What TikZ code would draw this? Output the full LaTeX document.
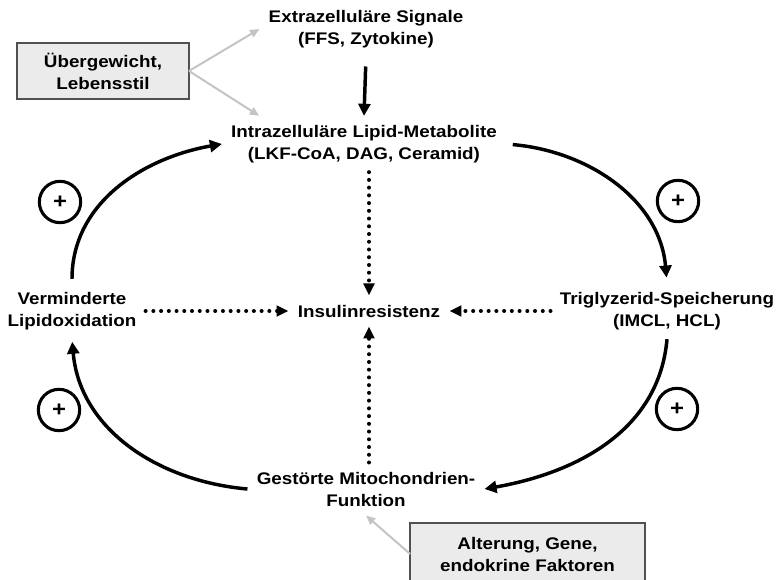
\documentclass[tikz,border=0pt]{standalone}
\usepackage{fontspec}
\setmainfont[FakeStretch=1.12]{Liberation Sans}
\usepackage{tikz}
\usetikzlibrary{arrows.meta}
\definecolor{boxfill}{HTML}{EBEBEB}
\definecolor{boxline}{HTML}{505050}
\definecolor{causegray}{HTML}{C4C4C4}
\newcommand{\diafont}{\fontsize{12.6pt}{16.5pt}\selectfont\bfseries}
\tikzstyle{stage}=[font=\diafont, align=center, inner sep=3pt, outer sep=4pt]
\tikzstyle{factor}=[draw=boxline, fill=boxfill, line width=1.2pt, font=\diafont, align=center, outer sep=0pt]
\tikzstyle{plussign}=[circle, draw, line width=2.3pt, minimum size=31pt, inner sep=0pt, font=\fontsize{16pt}{16pt}\selectfont\bfseries]
\tikzstyle{loop}=[line width=2.6pt, -{Triangle[length=9pt,width=9pt]}]
\tikzstyle{dots}=[line width=3pt, line cap=round, dash pattern=on 0pt off 5.8pt, -{Triangle[length=9pt,width=8pt]}]
\tikzstyle{cause}=[line width=1.5pt, draw=causegray, -{Triangle[length=7pt,width=6pt]}]
\newcommand{\stage}{\node[stage]}

\begin{document}
\begin{tikzpicture}[x=0.75pt, y=-0.75pt]
            \useasboundingbox (0,0) rectangle (779,580);
            \clip (0,0) rectangle (779,580);
            \stage (ext) at (366,29) {Extrazelluläre Signale\\(FFS, Zytokine)};
            \stage (intra) at (364,144) {Intrazelluläre Lipid-Metabolite\\(LKF-CoA, DAG, Ceramid)};
            \stage (ins) at (369,311) {Insulinresistenz};
            \stage (verm) at (72,311) {Verminderte\\Lipidoxidation};
            \stage (trig) at (667,311) {Triglyzerid-Speicherung\\(IMCL, HCL)};
            \stage (mito) at (366,489) {Gestörte Mitochondrien-\\Funktion};
            \node[factor, minimum width=129pt, minimum height=42pt] (ueber) at (103,71) {Übergewicht,\\Lebensstil};
            \node[factor, minimum width=176pt, minimum height=46.5pt] (alter) at (527.5,554) {Alterung, Gene,\\endokrine Faktoren};
            \node[plussign] (p1) at (60,202) {+};
            \node[plussign] (p2) at (678,201) {+};
            \node[plussign] (p3) at (59,410) {+};
            \node[plussign] (p4) at (677,409) {+};
        % loop
        \draw[loop, shorten <=3pt] (verm.north) to[out=90, in=190] (intra.west);
        \draw[loop, shorten <=5pt, shorten >=4pt] (intra.east) to[out=-5, in=95] (trig.north);
        \draw[loop] (trig.south) to[out=265, in=10] (mito.east);
        \draw[loop, shorten >=2pt] (mito.west) to[out=175, in=275] (verm.south);
        \draw[loop, shorten <=7pt] (ext.south) -- (intra.north);
        % towards Insulinresistenz
        \draw[dots] (ins.north |- intra.south) -- (ins.north);
        \draw[dots] (ins.south |- mito.north) -- (ins.south);
        \draw[dots] (verm.east) -- (ins.west);
        \draw[dots] (trig.west) -- (ins.east);
        % outer factors
        \draw[cause] (ueber.east) -- (ext.west);
        \draw[cause] (ueber.east) -- ([xshift=28pt]intra.north west);
        \draw[cause] (alter.west) -- (mito.south);
\end{tikzpicture}
\end{document}
